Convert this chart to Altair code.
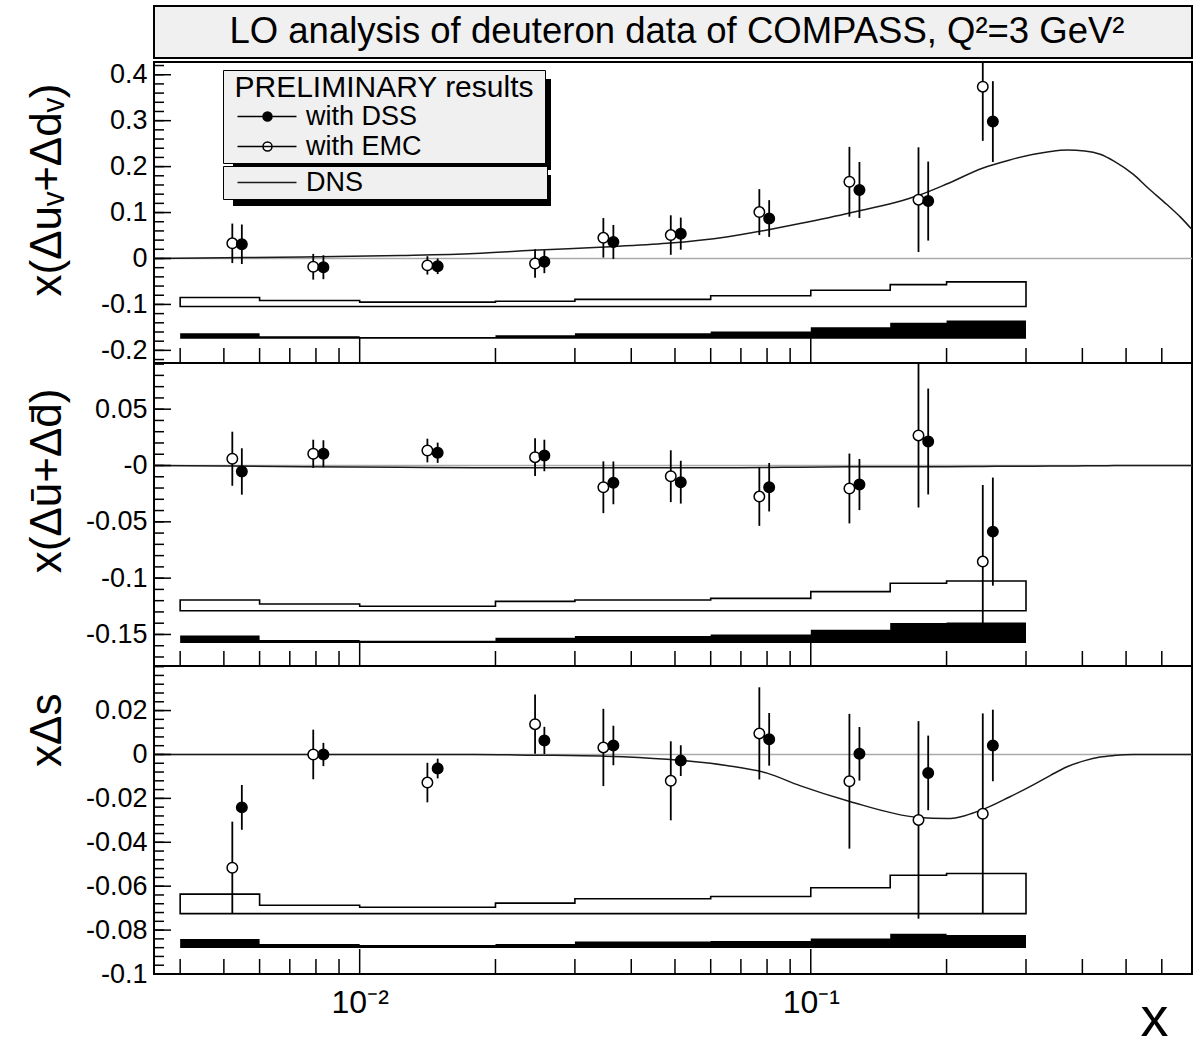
import altair as alt
import pandas as pd

FONT = "Liberation Sans"
NBSP = "\u00a0"
ZWSP = "\u200b"

TITLE = "LO analysis of deuteron data of COMPASS, Q\u00b2=3 GeV\u00b2"

# ---------------- data ----------------
x_emc = [0.00522, 0.00789, 0.01413, 0.02448, 0.03469, 0.04894, 0.07691, 0.1218, 0.1733, 0.2406]
x_dss = [0.00548, 0.00831, 0.01489, 0.02567, 0.03651, 0.0515, 0.08087, 0.1282, 0.1821, 0.2533]

# top panel: x(Δu_v + Δd_v)
uv_emc = [0.033, -0.018, -0.015, -0.011, 0.045, 0.051, 0.101, 0.167, 0.128, 0.374]
uv_emc_err = [0.043, 0.028, 0.02, 0.031, 0.043, 0.043, 0.05, 0.076, 0.114, 0.118]
uv_dss = [0.031, -0.019, -0.017, -0.007, 0.036, 0.054, 0.087, 0.149, 0.125, 0.298]
uv_dss_err = [0.043, 0.026, 0.017, 0.025, 0.037, 0.035, 0.04, 0.061, 0.086, 0.088]

# middle panel: x(Δubar + Δdbar)
sea_emc = [0.006, 0.0104, 0.0133, 0.0074, -0.0193, -0.0095, -0.0276, -0.0204, 0.0267, -0.0853]
sea_emc_err = [0.024, 0.0125, 0.0105, 0.0168, 0.023, 0.023, 0.026, 0.031, 0.064, 0.068]
sea_dss = [-0.0053, 0.0104, 0.0113, 0.0089, -0.0154, -0.0148, -0.0193, -0.0169, 0.0213, -0.0587]
sea_dss_err = [0.0206, 0.012, 0.009, 0.014, 0.019, 0.019, 0.0215, 0.0227, 0.047, 0.048]

# bottom panel: xΔs
s_emc = [-0.0516, 0.0, -0.0128, 0.0138, 0.0032, -0.012, 0.0096, -0.0122, -0.0298, -0.027]
s_emc_err = [0.021, 0.0113, 0.009, 0.0135, 0.0176, 0.018, 0.021, 0.0307, 0.045, 0.0457]
s_dss = [-0.0241, 0.0, -0.0064, 0.0064, 0.0041, -0.0028, 0.0069, 0.0003, -0.0084, 0.0041]
s_dss_err = [0.0102, 0.0053, 0.0045, 0.0062, 0.009, 0.007, 0.012, 0.0122, 0.017, 0.0163]

# systematic error bands
bin_edges = [0.004, 0.006, 0.01, 0.02, 0.03, 0.04, 0.06, 0.1, 0.15, 0.2, 0.3]
uv_sys_open = [-0.085, -0.0916, -0.095, -0.093, -0.089, -0.089, -0.081, -0.069, -0.057, -0.051]
uv_sys_open_base = -0.1045
uv_sys_fill = [-0.163, -0.169, -0.171, -0.167, -0.163, -0.163, -0.159, -0.1497, -0.140, -0.135]
uv_sys_fill_base = -0.1745

sea_sys_open = [-0.1194, -0.123, -0.125, -0.1206, -0.1194, -0.1194, -0.118, -0.112, -0.1045, -0.1025]
sea_sys_open_base = -0.129
sea_sys_fill = [-0.151, -0.155, -0.1556, -0.153, -0.1514, -0.1514, -0.150, -0.1458, -0.1398, -0.1393]
sea_sys_fill_base = -0.1575

s_sys_open = [-0.0636, -0.0687, -0.0696, -0.0677, -0.0657, -0.0657, -0.0647, -0.0607, -0.055, -0.0542]
s_sys_open_base = -0.0725
s_sys_fill = [-0.084, -0.0863, -0.0868, -0.0863, -0.0852, -0.0852, -0.085, -0.0838, -0.0817, -0.0822]
s_sys_fill_base = -0.0881

# DNS fit curves
dns_x = [0.0035, 0.005, 0.0075, 0.0123, 0.018, 0.0242, 0.035, 0.048, 0.065, 0.08, 0.0946,
         0.122, 0.173, 0.2, 0.241, 0.275, 0.312, 0.34, 0.37, 0.405, 0.438, 0.47, 0.519,
         0.56, 0.615, 0.66, 0.7]
dns_uv = [0.0, 0.0015, 0.003, 0.0065, 0.011, 0.018, 0.025, 0.033, 0.047, 0.062, 0.076,
          0.099, 0.137, 0.162, 0.197, 0.214, 0.227, 0.233, 0.236, 0.234, 0.227, 0.212, 0.183,
          0.153, 0.118, 0.09, 0.063]
dns_sea = [0.0, -0.0005, -0.001, -0.0015, -0.002, -0.002, -0.002, -0.002, -0.002, -0.0018, -0.0015,
           -0.0012, -0.001, -0.001, -0.0008, -0.0007, -0.0006, -0.0005, -0.0004, -0.0003, -0.0002,
           -0.0001, 0.0, 0.0, 0.0, 0.0, 0.0]
dns_s = [0.0, 0.0, 0.0, 0.0, 0.0, -0.0003, -0.0008, -0.0022, -0.005, -0.0085, -0.0142,
         -0.0214, -0.0287, -0.0292, -0.025, -0.0195, -0.0137, -0.0095, -0.0056, -0.0028, -0.0012,
         -0.0005, 0.0, 0.0, 0.0, 0.0, 0.0]

# axis ticks
x_minor = [0.004, 0.005, 0.006, 0.007, 0.008, 0.009,
           0.02, 0.03, 0.04, 0.05, 0.06, 0.07, 0.08, 0.09,
           0.2, 0.3, 0.4, 0.5, 0.6]
x_major = [0.01, 0.1]
x_labels = {0.01: "10\u207b\u00b2", 0.1: "10\u207b\u00b9"}

uv_major = [-0.2, -0.1, 0.0, 0.1, 0.2, 0.3, 0.4]
uv_minor = [round(-0.22 + 0.02 * i, 3) for i in range(33)]
sea_major = [-0.15, -0.1, -0.05, 0.0, 0.05]
sea_minor = [round(-0.17 + 0.01 * i, 3) for i in range(27)]
s_major = [-0.1, -0.08, -0.06, -0.04, -0.02, 0.0, 0.02]
s_minor = [round(-0.1 + 0.004 * i, 4) for i in range(36)]

# ---------------- layout ----------------
W = 1038
H_TOP, H_MID, H_BOT = 301, 303, 308
TOP_OFF = 56          # distance from chart origin to top panel
XDOM = [0.0035, 0.7]
xscale = alt.Scale(type="log", domain=XDOM, nice=False)

SYM_PTS = "M-0.2,0H5.7M3.25,0A0.45,0.45,0,1,1,2.35,0A0.45,0.45,0,1,1,3.25,0Z"
SYM_LINE = "M-0.2,0H5.7"

# legend boxes, in top-panel pixel coordinates
LEG_X, LEG1_Y, LEG2_Y = 69, 8, 104
LEG_W, LEG1_H, LEG2_H = 322, 93, 33
LABEL_OFF = 53


def pts_df(xe, ve, ee, xd, vd, ed):
    rows = []
    for x, v, e in zip(xe, ve, ee):
        rows.append(dict(x=x, y=v, lo=v - e, hi=v + e, series="with EMC"))
    for x, v, e in zip(xd, vd, ed):
        rows.append(dict(x=x, y=v, lo=v - e, hi=v + e, series="with DSS"))
    return pd.DataFrame(rows)


def band_df(top, base):
    return pd.DataFrame({"x": bin_edges, "top": top + [top[-1]], "base": [base] * len(bin_edges)})


def label_expr(zero_label):
    return ("datum.value == 0 ? '%s' : (datum.value < 0 ? '-' : '') + format(abs(datum.value), '~g')"
            % zero_label)


def pad_expr(n):
    return "datum.label + '" + NBSP * n + ZWSP + "'"


def panel(H, ydom, pts, openb, fillb, dns, yvals, ytitle, title_y, zero_label,
          ymajor, yminor, bottom=False, top=False):
    ys = alt.Scale(domain=ydom, nice=False, zero=False)
    yaxis = alt.Axis(values=yvals, labelExpr=label_expr(zero_label), ticks=False, domain=False,
                     grid=False, labelFont=FONT, labelFontSize=27, labelColor="black",
                     labelPadding=7, labelFlush=False, labelOverlap=False,
                     title=ytitle, titleFont=FONT, titleFontSize=44, titleFontWeight="normal",
                     titleColor="black", titleAngle=270, titleAlign="right",
                     titleBaseline="alphabetic", titleX=-94, titleY=title_y)
    if bottom:
        xaxis = alt.Axis(values=x_major,
                         labelExpr="datum.value < 0.05 ? '%s' : '%s'" % (x_labels[0.01], x_labels[0.1]),
                         ticks=False, domain=False, grid=False, labelFont=FONT, labelFontSize=32,
                         labelColor="black", labelPadding=13, labelFlush=False,
                         title="x", titleFont=FONT, titleFontSize=56, titleFontWeight="normal",
                         titleColor="black", titleX=1000, titleY=61, titleAlign="center",
                         titleBaseline="alphabetic")
    else:
        xaxis = None

    def X(f="x"):
        return alt.X(f + ":Q", scale=xscale, axis=xaxis)

    def Y(f):
        return alt.Y(f + ":Q", scale=ys, axis=yaxis)

    layers = []
    layers.append(alt.Chart(pd.DataFrame({"y": [0.0]})).mark_rule(color="#aaaaaa", strokeWidth=1.5)
                  .encode(y=Y("y")))
    bo = band_df(*openb)
    layers.append(alt.Chart(bo).mark_area(interpolate="step-after", fillOpacity=0, stroke="black",
                                          strokeWidth=1.6)
                  .encode(x=X(), y=Y("top"), y2="base:Q"))
    bf = band_df(*fillb)
    layers.append(alt.Chart(bf).mark_area(interpolate="step-after", color="black")
                  .encode(x=X(), y=Y("top"), y2="base:Q"))
    ddf = pd.DataFrame({"x": dns_x, "y": dns, "name": ["DNS"] * len(dns_x)})
    if top:
        leg2 = alt.Legend(title=None, orient="none", legendX=LEG_X, legendY=LEG2_Y + TOP_OFF,
                          fillColor="#f0f0f0", strokeColor="black", padding=3, cornerRadius=0,
                          labelFont=FONT, labelFontSize=27, labelColor="black", labelOffset=LABEL_OFF,
                          labelLimit=600, labelExpr=pad_expr(24),
                          symbolType=SYM_LINE, symbolSize=400, symbolStrokeWidth=1.5)
        layers.append(alt.Chart(ddf).mark_line(interpolate="monotone", strokeWidth=1.5, clip=True)
                      .encode(x=X(), y=Y("y"),
                              color=alt.Color("name:N", scale=alt.Scale(domain=["DNS"], range=["#1a1a1a"]),
                                              legend=leg2)))
    else:
        layers.append(alt.Chart(ddf).mark_line(interpolate="monotone", strokeWidth=1.5, clip=True,
                                               color="#1a1a1a")
                      .encode(x=X(), y=Y("y")))
    layers.append(alt.Chart(pts).mark_rule(color="black", strokeWidth=1.8, clip=True)
                  .encode(x=X(), y=Y("lo"), y2="hi:Q"))
    if top:
        leg1 = alt.Legend(title="PRELIMINARY results", orient="none", legendX=LEG_X,
                          legendY=LEG1_Y + TOP_OFF,
                          fillColor="#f0f0f0", strokeColor="black", padding=3, cornerRadius=0,
                          titleFont=FONT, titleFontSize=30, titleFontWeight="normal", titleColor="black",
                          titlePadding=0, titleAnchor="middle", titleLimit=600,
                          labelFont=FONT, labelFontSize=27, labelColor="black", labelOffset=LABEL_OFF,
                          labelLimit=600, labelExpr=pad_expr(16),
                          symbolType=SYM_PTS, symbolSize=400, symbolStrokeWidth=1.5,
                          symbolStrokeColor="black", rowPadding=2)
        layers.append(alt.Chart(pts).mark_circle(size=110, stroke="black", strokeWidth=1.5, opacity=1,
                                                 clip=True)
                      .encode(x=X(), y=Y("y"),
                              fill=alt.Fill("series:N",
                                            scale=alt.Scale(domain=["with DSS", "with EMC"],
                                                            range=["black", "white"]),
                                            legend=leg1)))
    else:
        for s, c in (("with EMC", "white"), ("with DSS", "black")):
            layers.append(alt.Chart(pts[pts.series == s]).mark_circle(size=110, stroke="black",
                                                                       strokeWidth=1.5, opacity=1,
                                                                       fill=c, clip=True)
                          .encode(x=X(), y=Y("y")))
    # axis ticks (drawn inside the frame)
    layers.append(alt.Chart(pd.DataFrame({"x": x_minor})).mark_rule(color="black", strokeWidth=1.5)
                  .encode(x=X(), y=alt.value(H), y2=alt.value(H - 15)))
    layers.append(alt.Chart(pd.DataFrame({"x": x_major})).mark_rule(color="black", strokeWidth=1.5)
                  .encode(x=X(), y=alt.value(H), y2=alt.value(H - 25)))
    layers.append(alt.Chart(pd.DataFrame({"y": yminor})).mark_rule(color="black", strokeWidth=1.5)
                  .encode(y=Y("y"), x=alt.value(0), x2=alt.value(10)))
    layers.append(alt.Chart(pd.DataFrame({"y": ymajor})).mark_rule(color="black", strokeWidth=1.5)
                  .encode(y=Y("y"), x=alt.value(0), x2=alt.value(17)))
    if top:
        # legend box shadows
        for ly, lh in ((LEG1_Y, LEG1_H), (LEG2_Y, LEG2_H)):
            layers.append(alt.Chart(pd.DataFrame({"k": [0]})).mark_rect(color="black")
                          .encode(x=alt.value(LEG_X + 10), x2=alt.value(LEG_X + LEG_W + 6),
                                  y=alt.value(ly + 9), y2=alt.value(ly + lh + 7)))
    return alt.layer(*layers).properties(width=W, height=H)


p_top = panel(H_TOP, [-0.2275, 0.4277],
              pts_df(x_emc, uv_emc, uv_emc_err, x_dss, uv_dss, uv_dss_err),
              (uv_sys_open, uv_sys_open_base), (uv_sys_fill, uv_sys_fill_base), dns_uv,
              uv_major, "x(\u0394u\u1d65+\u0394d\u1d65)", 21, "0", uv_major, uv_minor, top=True)
p_mid = panel(H_MID, [-0.178, 0.091],
              pts_df(x_emc, sea_emc, sea_emc_err, x_dss, sea_dss, sea_dss_err),
              (sea_sys_open, sea_sys_open_base), (sea_sys_fill, sea_sys_fill_base), dns_sea,
              sea_major, "x(\u0394\u016b+\u0394d\u0304)", 25, "-0", sea_major, sea_minor)
p_bot = panel(H_BOT, [-0.1, 0.0403],
              pts_df(x_emc, s_emc, s_emc_err, x_dss, s_dss, s_dss_err),
              (s_sys_open, s_sys_open_base), (s_sys_fill, s_sys_fill_base), dns_s,
              s_major, "x\u0394s", 27, "0", s_major, s_minor, bottom=True)

title_chart = alt.Chart(pd.DataFrame({"t": [TITLE]})).mark_text(
    font=FONT, fontSize=36.5, color="black", baseline="middle", align="center"
).encode(text="t:N", x=alt.value(W / 2 + 4), y=alt.value(26)).properties(
    width=W, height=52, view=alt.ViewBackground(fill="#f0f0f0", stroke="black", strokeWidth=2)
)

panels = alt.vconcat(p_top, p_mid, p_bot, spacing=0, bounds="flush")
chart = alt.vconcat(title_chart, panels, spacing=4, bounds="flush").properties(
    padding={"left": 24, "top": 5, "right": 5, "bottom": 0},
    background="white",
).configure_view(stroke="black", strokeWidth=2)

chart.save("out.html", embed_options={"renderer": "svg", "actions": False})
